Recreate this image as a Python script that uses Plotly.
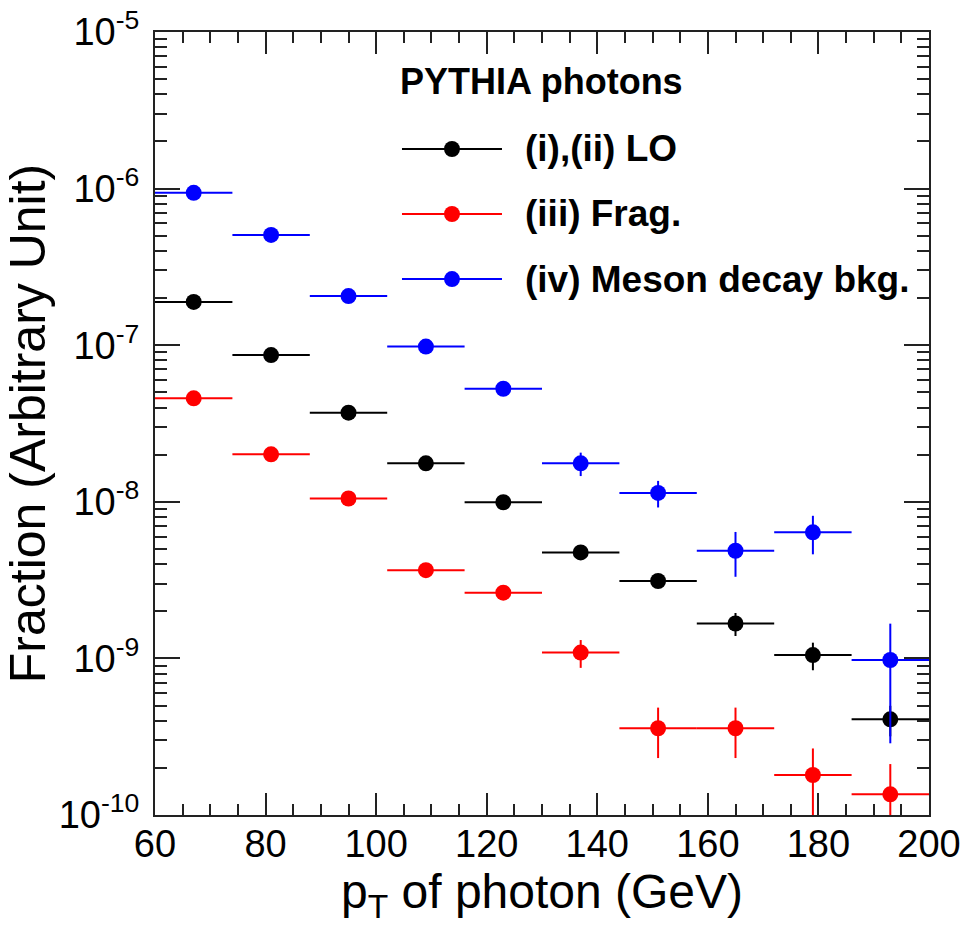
import plotly.graph_objects as go

# ---------------- data ----------------
bin_edges = [60, 74, 88, 102, 116, 130, 144, 158, 172, 186, 200]

lo_vals = [1.89e-7, 8.65e-8, 3.71e-8, 1.76e-8, 9.93e-9, 4.75e-9, 3.12e-9, 1.67e-9, 1.05e-9, 4.08e-10]
lo_errs = [3.0e-9, 1.8e-9, 9.0e-10, 5.5e-10, 3.5e-10, 2.6e-10, 2.0e-10, 2.8e-10, 2.1e-10, 9.0e-11]

frag_vals = [4.58e-8, 2.01e-8, 1.05e-8, 3.66e-9, 2.63e-9, 1.09e-9, 3.58e-10, 3.58e-10, 1.80e-10, 1.355e-10]
frag_errs = [1.5e-9, 9.0e-10, 6.0e-10, 2.8e-10, 2.6e-10, 2.2e-10, 1.27e-10, 1.27e-10, 8.6e-11, 7.6e-11]

meson_vals = [9.4e-7, 5.06e-7, 2.06e-7, 9.8e-8, 5.27e-8, 1.76e-8, 1.14e-8, 4.87e-9, 6.38e-9, 9.77e-10]
meson_errs = [2.0e-8, 1.2e-8, 6.0e-9, 3.5e-9, 2.2e-9, 3.0e-9, 2.2e-9, 1.55e-9, 1.76e-9, 6.9e-10]

series_names = ["(i),(ii) LO", "(iii) Frag.", "(iv) Meson decay bkg."]
series_colors = ["#000000", "#ff0000", "#0000ff"]
legend_header = "PYTHIA photons"

x_tick_vals = [60, 80, 100, 120, 140, 160, 180, 200]
y_tick_vals = [1e-10, 1e-9, 1e-8, 1e-7, 1e-6, 1e-5]
y_tick_text = ["10<sup>-10</sup>", "10<sup>-9</sup>", "10<sup>-8</sup>",
               "10<sup>-7</sup>", "10<sup>-6</sup>", "10<sup>-5</sup>"]
x_title = "p<sub>T</sub> of photon (GeV)"
y_title = "Fraction (Arbitrary Unit)"

# ---------------- derived ----------------
centers = [(a + b) / 2 for a, b in zip(bin_edges[:-1], bin_edges[1:])]
half_w = [(b - a) / 2 for a, b in zip(bin_edges[:-1], bin_edges[1:])]

FONT = "Liberation Sans, Arial, Helvetica, sans-serif"
AXC = "#222222"

fig = go.Figure()
for vals, errs, name, col in [(lo_vals, lo_errs, series_names[0], series_colors[0]),
                              (frag_vals, frag_errs, series_names[1], series_colors[1]),
                              (meson_vals, meson_errs, series_names[2], series_colors[2])]:
    fig.add_trace(go.Scatter(
        x=centers, y=vals, mode="markers", name=name, showlegend=False,
        marker=dict(color=col, size=16, symbol="circle"),
        error_x=dict(type="data", array=half_w, symmetric=True, color=col, thickness=2, width=0),
        error_y=dict(type="data", array=errs, symmetric=True, color=col, thickness=2, width=0),
        cliponaxis=True,
    ))

# ---------------- manual legend ----------------
shapes = []
annotations = []
entry_y = [0.8506, 0.7676, 0.6845]
for yy, name, col in zip(entry_y, series_names, series_colors):
    shapes.append(dict(type="line", xref="paper", yref="paper", x0=0.3191, x1=0.4483,
                       y0=yy, y1=yy, line=dict(color=col, width=2)))
    shapes.append(dict(type="circle", xref="paper", yref="paper",
                       xsizemode="pixel", ysizemode="pixel",
                       xanchor=0.3837, yanchor=yy, x0=-8, x1=8, y0=-8, y1=8,
                       fillcolor=col, line=dict(color=col, width=0)))
    annotations.append(dict(xref="paper", yref="paper", x=0.4755, y=yy, xanchor="left",
                            yanchor="middle", showarrow=False, text="<b>" + name + "</b>",
                            font=dict(family=FONT, size=37, color="black")))
annotations.append(dict(xref="paper", yref="paper", x=0.4993, y=0.9374, xanchor="center",
                        yanchor="middle", showarrow=False, text="<b>" + legend_header + "</b>",
                        font=dict(family=FONT, size=36, color="black")))

axis_common = dict(
    showline=True, linecolor=AXC, linewidth=2, mirror="ticks",
    ticks="inside", tickcolor=AXC, tickwidth=2,
    showgrid=False, zeroline=False, automargin=False,
    tickfont=dict(family=FONT, size=38, color="black"),
)

fig.update_layout(
    width=960, height=930,
    margin=dict(l=155, r=31, t=32, b=115),
    paper_bgcolor="white", plot_bgcolor="white",
    font=dict(family=FONT, color="black"),
    shapes=shapes, annotations=annotations,
    xaxis=dict(axis_common, range=[60, 200], tickmode="array", tickvals=x_tick_vals,
               ticklen=22, ticklabeloverflow="allow", ticklabelstandoff=-6,
               minor=dict(dtick=5, tick0=0, ticks="inside", ticklen=11, tickwidth=2, tickcolor=AXC),
               title=dict(text=x_title, font=dict(family=FONT, size=48), standoff=10)),
    yaxis=dict(axis_common, type="log", range=[-10, -5], tickmode="array",
               tickvals=y_tick_vals, ticktext=y_tick_text, ticklen=25, ticklabelstandoff=6,
               minor=dict(dtick="D1", ticks="inside", ticklen=12, tickwidth=2, tickcolor=AXC),
               title=dict(text=y_title, font=dict(family=FONT, size=50), standoff=2)),
)

fig.write_html("out.html")
